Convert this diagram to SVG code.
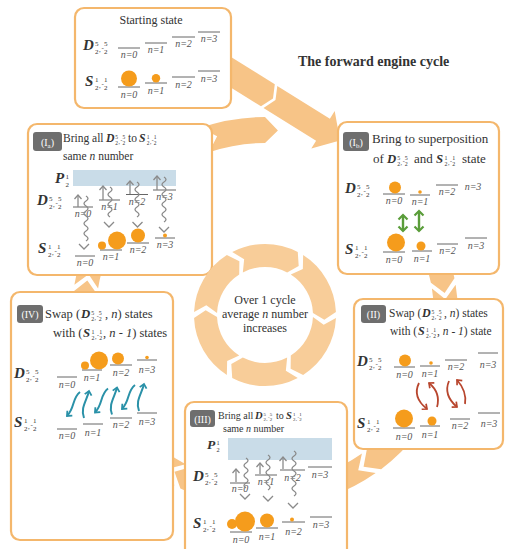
<svg xmlns="http://www.w3.org/2000/svg" width="505" height="549" viewBox="0 0 505 549">
<defs>
<style>
text{font-family:"Liberation Serif","Times New Roman",serif;fill:#333}
.bx{fill:#fff;stroke:#f4b76c;stroke-width:2.2}
.big{fill:#f7c487}
.ring{fill:#f8cd99}
.h{font-size:11.5px}
.c{text-anchor:middle}
.lab{font-size:10px;font-style:italic;text-anchor:middle;fill:#555}
.sym{font-size:15px;font-weight:bold;font-style:italic;fill:#333}
.fr{font-size:7px}
.lv{stroke:#555;stroke-width:0.9}
.ball{fill:#f59c1c}
.badge{fill:#6e6e6e}
.bt{fill:#fff;font-size:10px;text-anchor:middle}
.gr{fill:none;stroke:#8a8a8a;stroke-width:1.3}
.grn{fill:none;stroke:#5a9d3a;stroke-width:2.4}
.red{fill:none;stroke:#b8462e;stroke-width:1.8}
.teal{fill:none;stroke:#2a91a8;stroke-width:2}
.blue{fill:#c9dce8}
</style>
<marker id="ag" viewBox="-6 -6 12 12" refX="0" refY="0" markerWidth="12" markerHeight="12" markerUnits="userSpaceOnUse" orient="auto-start-reverse"><path d="M-4,-3.5 L0,0 L-4,3.5" fill="none" stroke="#8a8a8a" stroke-width="1.3"/></marker>
<marker id="agr" viewBox="-6 -6 12 12" refX="0" refY="0" markerWidth="12" markerHeight="12" markerUnits="userSpaceOnUse" orient="auto-start-reverse"><path d="M-4.5,-4.5 L0,0 L-4.5,4.5" fill="none" stroke="#5a9d3a" stroke-width="2.2"/></marker>
<marker id="ard" viewBox="-6 -6 12 12" refX="0" refY="0" markerWidth="12" markerHeight="12" markerUnits="userSpaceOnUse" orient="auto-start-reverse"><path d="M-4,-3.5 L0,0 L-4,3.5" fill="none" stroke="#b8462e" stroke-width="1.7"/></marker>
<marker id="atl" viewBox="-6 -6 12 12" refX="0" refY="0" markerWidth="12" markerHeight="12" markerUnits="userSpaceOnUse" orient="auto-start-reverse"><path d="M-4,-3.5 L0,0 L-4,3.5" fill="none" stroke="#2a91a8" stroke-width="1.8"/></marker>
<g id="Dl"><text class="sym" x="0" y="0">D</text><g class="fr"><text x="12" y="-4">5</text><text x="12" y="3.5">2</text><text x="16" y="2">,</text><text x="18.5" y="0">-</text><text x="21" y="-4">5</text><text x="21" y="3.5">2</text></g></g>
<g id="Sl"><text class="sym" x="0" y="0">S</text><g class="fr"><text x="10" y="-4">1</text><text x="10" y="3.5">2</text><text x="14" y="2">,</text><text x="16.5" y="0">-</text><text x="19" y="-4">1</text><text x="19" y="3.5">2</text></g></g>
<g id="Pl"><text class="sym" x="0" y="0">P</text><g class="fr"><text x="10.5" y="-4">1</text><text x="10.5" y="3.5">2</text></g></g>
<polyline id="vh" points="-5,-5 0,0 5,-5" class="gr"/>
</defs>

<g id="connectors" class="big">
<polygon points="213.7,46.2 274.8,84.3 273.0,98.5 261.0,106.3 199.9,68.2"/>
<polygon points="277.3,85.9 329.9,118.8 334.7,111.1 340,140.4 311.3,148.5 316.1,140.8 263.5,107.9 275.5,100.1"/>
<path d="M174.39,485.41 A193,193 0 0 1 73.44,291.48 L87.32,280.46 L97.26,294.40 A169,169 0 0 0 185.66,464.22 L169.08,468.50 Z"/>
<path d="M74.38,284.81 A193,193 0 0 1 192.70,136.05 L209.07,142.86 L201.69,158.31 A169,169 0 0 0 98.08,288.56 L88.64,274.28 Z"/>
<path d="M200.54,127.79 A198,198 0 0 1 265,117 L277.91,130.45 L265,143 A172,172 0 0 0 209,152.37 L217.12,136.30 Z"/>
<path d="M361.5,147.86 A193,193 0 0 1 454.45,278.17 L444.65,292.94 L430.90,282.75 A169,169 0 0 0 349.5,168.64 L366.21,164.94 Z"/>
<path d="M455.62,284.81 A193,193 0 0 1 381.15,469.14 L363.58,466.80 L366.71,449.97 A169,169 0 0 0 431.92,288.56 L445.31,299.22 Z"/>
<path d="M375.70,473.10 A193,193 0 0 1 180.39,488.47 L174.5,471.75 L190.92,466.90 A169,169 0 0 0 361.93,453.44 L358.22,470.15 Z"/>
</g>

<g id="title"><text x="298" y="66" font-size="14" font-weight="bold" fill="#222">The forward engine cycle</text></g>

<g id="start">
<rect class="bx" x="75" y="8" width="156" height="100" rx="9"/>
<text class="c" x="151" y="24" font-size="12">Starting state</text>
<use href="#Dl" x="83" y="50"/>
<line class="lv" x1="118" y1="48" x2="140" y2="48"/><text class="lab" x="129" y="58">n=0</text>
<line class="lv" x1="145" y1="43" x2="167" y2="43"/><text class="lab" x="156" y="53">n=1</text>
<line class="lv" x1="172" y1="37" x2="195" y2="37"/><text class="lab" x="183.5" y="47">n=2</text>
<line class="lv" x1="198" y1="32" x2="220" y2="32"/><text class="lab" x="209" y="42">n=3</text>
<use href="#Sl" x="85" y="86"/>
<line class="lv" x1="118" y1="87" x2="140" y2="87"/><text class="lab" x="129" y="98">n=0</text>
<line class="lv" x1="145" y1="83" x2="167" y2="83"/><text class="lab" x="156" y="94">n=1</text>
<line class="lv" x1="172" y1="77" x2="195" y2="77"/><text class="lab" x="183.5" y="88">n=2</text>
<line class="lv" x1="198" y1="71" x2="220" y2="71"/><text class="lab" x="209" y="82">n=3</text>
<circle class="ball" cx="129" cy="78.5" r="8"/>
<circle class="ball" cx="156" cy="78.3" r="4.2"/>
</g>

<g id="box-Ia">
<rect class="bx" x="28" y="124" width="184" height="151" rx="9"/>
<rect class="badge" x="33" y="132" width="29" height="19" rx="3"/>
<text class="bt" x="47.5" y="145.5">(I<tspan font-size="7" dy="2">a</tspan><tspan dy="-2">)</tspan></text>
<text class="h" x="63" y="142">Bring all</text>
<use href="#Dl" transform="translate(106,142) scale(0.78)"/>
<text class="h" x="128" y="142">to</text>
<use href="#Sl" transform="translate(139,142) scale(0.78)"/>
<text class="h" x="63" y="160">same <tspan font-style="italic">n</tspan> number</text>
<use href="#Pl" x="55" y="183"/>
<rect class="blue" x="73" y="170" width="103" height="16"/>
<use href="#Dl" x="37" y="205"/>
<line class="lv" x1="73" y1="207" x2="93" y2="207"/><text class="lab" x="83" y="217">n=0</text>
<line class="lv" x1="99" y1="200" x2="120" y2="200"/><text class="lab" x="109.5" y="210">n=1</text>
<line class="lv" x1="126" y1="194.5" x2="148" y2="194.5"/><text class="lab" x="137" y="204.5">n=2</text>
<line class="lv" x1="153" y1="190" x2="176" y2="190"/><text class="lab" x="164.5" y="200">n=3</text>
<path class="gr" d="M78,207 V195" marker-end="url(#ag)"/>
<path class="gr" d="M103,200 V186" marker-end="url(#ag)"/>
<path class="gr" d="M130,194 V181" marker-end="url(#ag)"/>
<path class="gr" d="M157,190 V176" marker-end="url(#ag)"/>
<path class="gr" d="M86,196 q4,2.5 0,5 t0,5 t0,5 t0,5 t0,5 t0,5 t0,5 t0,5 t0,5"/>
<path class="gr" d="M110,187 q4,2.5 0,5 t0,5 t0,5 t0,5 t0,5 t0,5"/>
<path class="gr" d="M137,182 q4,2.5 0,5 t0,5 t0,5 t0,5 t0,5 t0,5 t0,5"/>
<path class="gr" d="M164,177 q4,2.5 0,5 t0,5 t0,5 t0,5 t0,5 t0,5 t0,5 t0,5 t0,5"/>
<use href="#vh" x="84" y="249"/>
<use href="#vh" x="109" y="227"/>
<use href="#vh" x="137.5" y="227"/>
<use href="#vh" x="164" y="232"/>
<use href="#Sl" x="38" y="253"/>
<line class="lv" x1="75" y1="256" x2="95" y2="256"/><text class="lab" x="85" y="266">n=0</text>
<line class="lv" x1="100" y1="250" x2="122" y2="250"/><text class="lab" x="111" y="260">n=1</text>
<line class="lv" x1="127" y1="243" x2="149" y2="243"/><text class="lab" x="138" y="253">n=2</text>
<line class="lv" x1="155" y1="238" x2="175" y2="238"/><text class="lab" x="165" y="248">n=3</text>
<circle class="ball" cx="102" cy="245.5" r="4"/>
<circle class="ball" cx="117" cy="240.5" r="9"/>
<circle class="ball" cx="138" cy="235.5" r="7"/>
<circle class="ball" cx="165" cy="235.5" r="2"/>
</g>

<g id="box-Ib">
<rect class="bx" x="338" y="122" width="161" height="152" rx="9"/>
<rect class="badge" x="343" y="132" width="26" height="19" rx="3"/>
<text class="bt" x="356" y="145.5">(I<tspan font-size="7" dy="2">b</tspan><tspan dy="-2">)</tspan></text>
<text x="372" y="143" font-size="13">Bring to superposition</text>
<text x="373" y="163" font-size="13">of</text>
<use href="#Dl" transform="translate(387,163) scale(0.85)"/>
<text x="414" y="163" font-size="13">and</text>
<use href="#Sl" transform="translate(436,163) scale(0.85)"/>
<text x="462" y="163" font-size="13">state</text>
<use href="#Dl" x="345" y="193"/>
<line class="lv" x1="383" y1="194" x2="405" y2="194"/><text class="lab" x="394" y="204">n=0</text>
<line class="lv" x1="410" y1="195" x2="430" y2="195"/><text class="lab" x="420" y="205">n=1</text>
<line class="lv" x1="436" y1="185" x2="458" y2="185"/><text class="lab" x="447" y="195">n=2</text>
<text class="lab" x="473" y="190">n=3</text>
<circle class="ball" cx="395" cy="187.5" r="6"/>
<circle class="ball" cx="420" cy="192" r="1.8"/>
<path class="grn" d="M403,215 V231" marker-start="url(#agr)" marker-end="url(#agr)"/>
<path class="grn" d="M419,211 V231" marker-start="url(#agr)" marker-end="url(#agr)"/>
<use href="#Sl" x="345" y="254"/>
<line class="lv" x1="383" y1="252" x2="405" y2="252"/><text class="lab" x="394" y="263">n=0</text>
<line class="lv" x1="412" y1="251" x2="432" y2="251"/><text class="lab" x="422" y="262">n=1</text>
<line class="lv" x1="437" y1="244" x2="458" y2="244"/><text class="lab" x="447.5" y="254">n=2</text>
<line class="lv" x1="465" y1="238" x2="487" y2="238"/><text class="lab" x="476" y="249">n=3</text>
<circle class="ball" cx="396" cy="242.5" r="9"/>
<circle class="ball" cx="421" cy="246" r="4.5"/>
</g>

<g id="box-II">
<rect class="bx" x="354" y="299" width="149" height="150" rx="9"/>
<rect class="badge" x="361" y="305" width="25" height="18" rx="3"/>
<text class="bt" x="373.5" y="318">(II)</text>
<text class="h" x="389" y="317">Swap (</text>
<use href="#Dl" transform="translate(422,317) scale(0.8)"/>
<text class="h" x="444" y="317">, <tspan font-style="italic">n</tspan>) states</text>
<text class="h" x="390" y="335">with (</text>
<use href="#Sl" transform="translate(418,335) scale(0.8)"/>
<text class="h" x="437" y="335">, <tspan font-style="italic">n - 1</tspan>) state</text>
<use href="#Dl" x="357" y="366"/>
<line class="lv" x1="394" y1="367" x2="415" y2="367"/><text class="lab" x="404.5" y="378">n=0</text>
<line class="lv" x1="420" y1="366" x2="440" y2="366"/><text class="lab" x="430" y="377">n=1</text>
<line class="lv" x1="445" y1="360" x2="467" y2="360"/><text class="lab" x="456" y="370">n=2</text>
<line class="lv" x1="478" y1="353" x2="498" y2="353"/><text class="lab" x="488" y="368">n=3</text>
<circle class="ball" cx="405" cy="360.5" r="6"/>
<circle class="ball" cx="431" cy="363" r="1.8"/>
<path class="red" d="M419,383 Q412,397 427,409" marker-end="url(#ard)"/>
<path class="red" d="M437,407 Q441,393 429,383" marker-end="url(#ard)"/>
<path class="red" d="M449,381 Q443,395 457,407" marker-end="url(#ard)"/>
<path class="red" d="M465,404 Q467,391 457,380" marker-end="url(#ard)"/>
<use href="#Sl" x="357" y="428"/>
<line class="lv" x1="393" y1="428" x2="415" y2="428"/><text class="lab" x="404" y="440">n=0</text>
<line class="lv" x1="420" y1="426" x2="440" y2="426"/><text class="lab" x="430" y="438">n=1</text>
<line class="lv" x1="450" y1="419" x2="470" y2="419"/><text class="lab" x="460" y="429">n=2</text>
<line class="lv" x1="478" y1="413" x2="500" y2="413"/><text class="lab" x="489" y="427">n=3</text>
<circle class="ball" cx="404" cy="418.5" r="9"/>
<circle class="ball" cx="432" cy="421" r="4.5"/>
</g>

<g id="box-III">
<rect class="bx" x="185" y="402" width="162" height="160" rx="9"/>
<rect class="badge" x="190" y="410" width="25" height="17" rx="3"/>
<text class="bt" x="202.5" y="422.5" font-size="9.5">(III)</text>
<text x="218" y="419" font-size="10">Bring all</text>
<use href="#Dl" transform="translate(255,419) scale(0.7)"/>
<text x="276" y="419" font-size="10">to</text>
<use href="#Sl" transform="translate(286,419) scale(0.7)"/>
<text x="223" y="432" font-size="10">same <tspan font-style="italic">n</tspan> number</text>
<use href="#Pl" transform="translate(207,449) scale(0.9)"/>
<rect class="blue" x="228" y="438" width="104" height="22"/>
<use href="#Dl" x="193" y="481"/>
<line class="lv" x1="230" y1="483" x2="250" y2="483"/><text class="lab" x="240" y="492">n=0</text>
<line class="lv" x1="255" y1="475" x2="277" y2="475"/><text class="lab" x="266" y="485">n=1</text>
<line class="lv" x1="280" y1="470" x2="305" y2="470"/><text class="lab" x="292.5" y="481">n=2</text>
<line class="lv" x1="308" y1="467" x2="332" y2="467"/><text class="lab" x="320" y="478">n=3</text>
<path class="gr" d="M236,482 V469" marker-end="url(#ag)"/>
<path class="gr" d="M260,474 V463" marker-end="url(#ag)"/>
<path class="gr" d="M283,469 V457" marker-end="url(#ag)"/>
<path class="gr" d="M246,458 q4,2.5 0,5 t0,5 t0,5 t0,5 t0,5 t0,5"/>
<path class="gr" d="M268,455 q4,2.5 0,5 t0,5 t0,5 t0,5 t0,5 t0,5 t0,5"/>
<path class="gr" d="M294,451 q4,2.5 0,5 t0,5 t0,5 t0,5 t0,5 t0,5 t0,5 t0,5 t0,5"/>
<use href="#vh" x="245" y="499"/>
<use href="#vh" x="268" y="501"/>
<use href="#vh" x="293" y="508"/>
<use href="#Sl" x="193" y="528"/>
<line class="lv" x1="230" y1="532" x2="252" y2="532"/><text class="lab" x="241" y="543">n=0</text>
<line class="lv" x1="256" y1="528" x2="278" y2="528"/><text class="lab" x="267" y="540">n=1</text>
<line class="lv" x1="282" y1="522" x2="305" y2="522"/><text class="lab" x="293.5" y="535">n=2</text>
<line class="lv" x1="310" y1="517" x2="332" y2="517"/><text class="lab" x="321" y="528">n=3</text>
<circle class="ball" cx="232" cy="524" r="5"/>
<circle class="ball" cx="245" cy="521.5" r="10"/>
<circle class="ball" cx="267" cy="520.5" r="7"/>
<circle class="ball" cx="292" cy="519.5" r="2"/>
</g>

<g id="box-IV">
<rect class="bx" x="11" y="292" width="162" height="248" rx="9"/>
<rect class="badge" x="17" y="305" width="26" height="18" rx="3"/>
<text class="bt" x="30" y="318">(IV)</text>
<text x="45" y="318" font-size="12.5">Swap (</text>
<use href="#Dl" transform="translate(81,318) scale(0.85)"/>
<text x="105" y="318" font-size="12.5">, <tspan font-style="italic">n</tspan>) states</text>
<text x="53" y="337" font-size="12.5">with (</text>
<use href="#Sl" transform="translate(83,337) scale(0.85)"/>
<text x="103" y="337" font-size="12.5">, <tspan font-style="italic">n - 1</tspan>) states</text>
<use href="#Dl" x="14" y="378"/>
<line class="lv" x1="57" y1="377" x2="77" y2="377"/><text class="lab" x="67" y="388">n=0</text>
<line class="lv" x1="82" y1="370" x2="102" y2="370"/><text class="lab" x="92" y="381">n=1</text>
<line class="lv" x1="110" y1="365" x2="132" y2="365"/><text class="lab" x="121" y="376">n=2</text>
<line class="lv" x1="137" y1="360" x2="157" y2="360"/><text class="lab" x="147" y="373">n=3</text>
<circle class="ball" cx="85" cy="365.5" r="4"/>
<circle class="ball" cx="99" cy="360.5" r="9"/>
<circle class="ball" cx="118" cy="358.5" r="6"/>
<circle class="ball" cx="147" cy="357.5" r="1.8"/>
<path class="teal" d="M80,392 C72,398 75,408 67,416" marker-end="url(#atl)"/>
<path class="teal" d="M84,418 C80,408 87,400 89,391" marker-end="url(#atl)"/>
<path class="teal" d="M108,388.5 C100,394.5 103,404.5 95,412.5" marker-end="url(#atl)"/>
<path class="teal" d="M112,414.5 C108,404.5 115,396.5 117,387.5" marker-end="url(#atl)"/>
<path class="teal" d="M135,385 C127,391 130,401 122,409" marker-end="url(#atl)"/>
<path class="teal" d="M139,411 C135,401 142,393 144,384" marker-end="url(#atl)"/>
<use href="#Sl" x="14" y="427"/>
<line class="lv" x1="57" y1="429" x2="77" y2="429"/><text class="lab" x="67" y="439">n=0</text>
<line class="lv" x1="83" y1="424" x2="103" y2="424"/><text class="lab" x="93" y="436">n=1</text>
<line class="lv" x1="110" y1="418" x2="132" y2="418"/><text class="lab" x="121" y="428">n=2</text>
<line class="lv" x1="137" y1="413" x2="157" y2="413"/><text class="lab" x="147" y="425">n=3</text>
</g>

<g id="cycle-ring" class="ring">
<path d="M335.93,318.10 A71,71 0 0 1 303.15,374.88 L290.62,368.70 L290.79,355.48 A48,48 0 0 0 312.95,317.09 L323.68,324.82 Z"/>
<path d="M297.78,377.98 A71,71 0 0 1 232.22,377.98 L231.30,364.04 L242.84,357.58 A48,48 0 0 0 287.16,357.58 L285.84,370.73 Z"/>
<path d="M226.85,374.88 A71,71 0 0 1 194.07,318.10 L205.68,310.33 L217.05,317.09 A48,48 0 0 0 239.21,355.48 L227.15,360.91 Z"/>
<path d="M194.07,311.90 A71,71 0 0 1 226.85,255.12 L239.38,261.30 L239.21,274.52 A48,48 0 0 0 217.05,312.91 L206.32,305.18 Z"/>
<path d="M232.22,252.02 A71,71 0 0 1 297.78,252.02 L298.70,265.96 L287.16,272.42 A48,48 0 0 0 242.84,272.42 L244.16,259.27 Z"/>
<path d="M303.15,255.12 A71,71 0 0 1 335.93,311.90 L324.32,319.67 L312.95,312.91 A48,48 0 0 0 290.79,274.52 L302.85,269.09 Z"/>
</g>
<g id="center">
<text class="c" x="265" y="304" font-size="12">Over 1 cycle</text>
<text class="c" x="265" y="318" font-size="12">average <tspan font-style="italic">n</tspan> number</text>
<text class="c" x="265" y="332" font-size="12">increases</text>
</g>
</svg>
